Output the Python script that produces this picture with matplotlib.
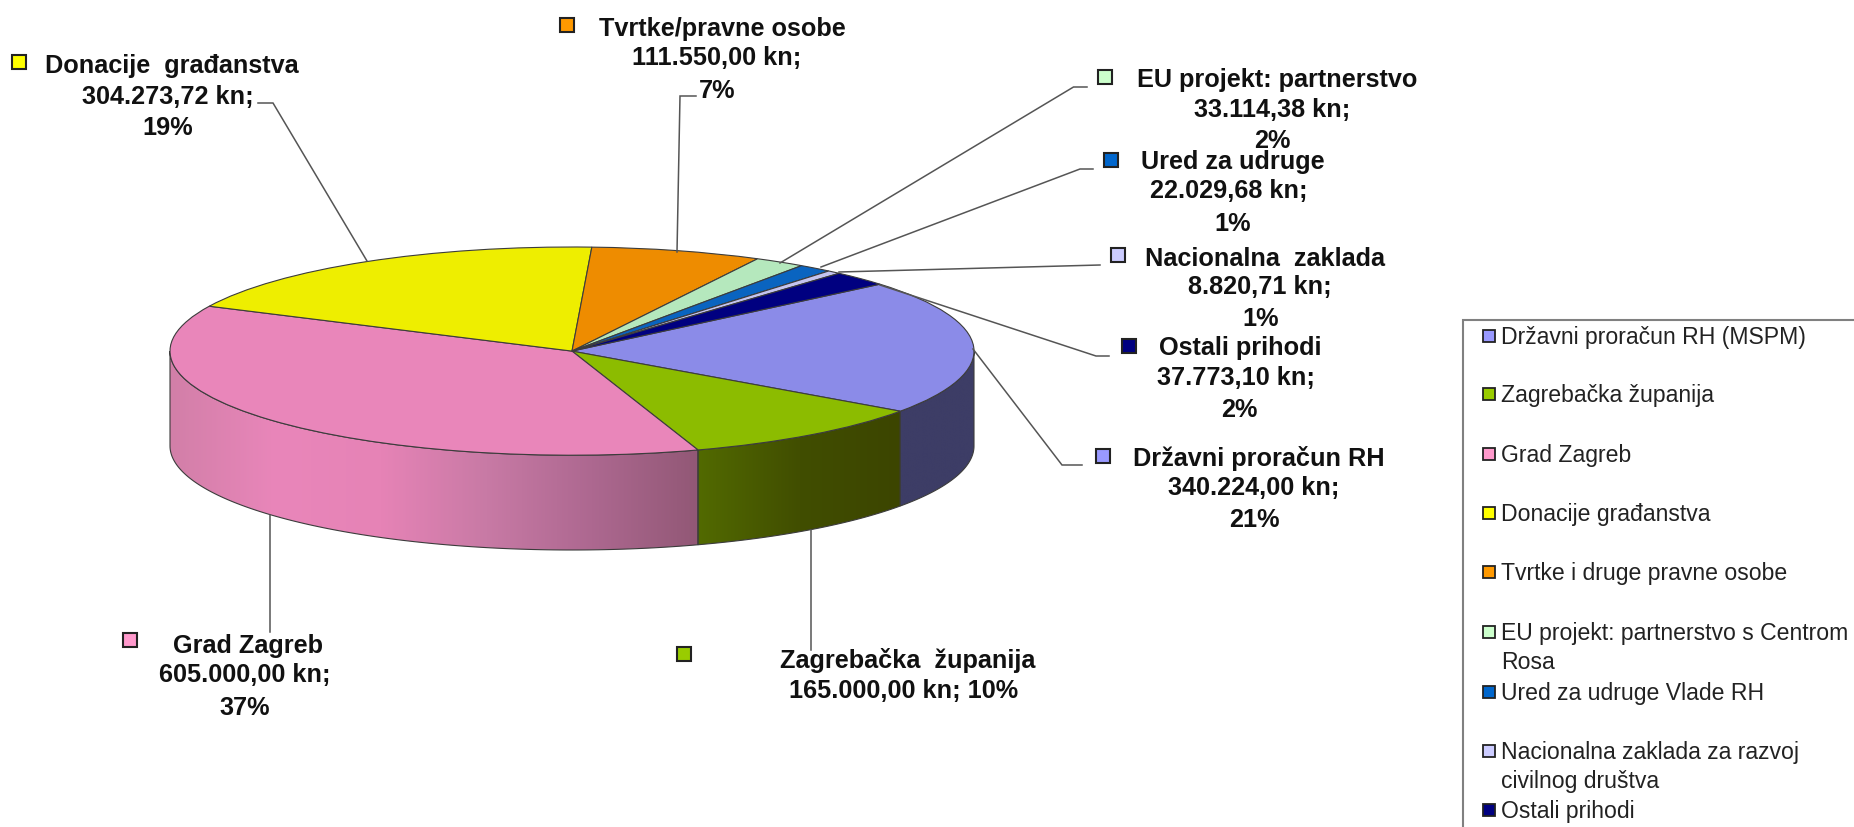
import numpy as np
import matplotlib
matplotlib.use('Agg')
import matplotlib.pyplot as plt
from matplotlib.colors import LinearSegmentedColormap
from matplotlib.patches import Wedge, Polygon, Rectangle

plt.rcParams['font.family'] = ['Liberation Sans', 'DejaVu Sans']

W, H = 1854, 827

# data, same order as the legend
names = ['Državni proračun RH', 'Zagrebačka  županija', 'Grad Zagreb', 'Donacije  građanstva',
         'Tvrtke/pravne osobe', 'EU projekt: partnerstvo', 'Ured za udruge',
         'Nacionalna  zaklada', 'Ostali prihodi']
values = [340224.00, 165000.00, 605000.00, 304273.72, 111550.00, 33114.38, 22029.68, 8820.71, 37773.10]
percents = [21, 10, 37, 19, 7, 2, 1, 1, 2]
legend_names = ['Državni proračun RH (MSPM)', 'Zagrebačka županija', 'Grad Zagreb', 'Donacije građanstva',
                'Tvrtke i druge pravne osobe', 'EU projekt: partnerstvo s Centrom\nRosa',
                'Ured za udruge Vlade RH', 'Nacionalna zaklada za razvoj\ncivilnog društva', 'Ostali prihodi']
top_colors = ['#8b8be8', '#8cbc00', '#e986ba', '#eeee00', '#ee8c00', '#b5e8bd', '#0a64c0', '#c4c4f0', '#000080']
swatch_colors = ['#9999ff', '#99cc00', '#ff99cc', '#ffff00', '#ff9900', '#ccffcc', '#0066cc', '#ccccff', '#000080']
wall_stops = {0: ['#3d3d66', '#3d3d66'],
              1: ['#526a00', '#414e00', '#3c4500'],
              2: ['#d27fa8', '#e986ba', '#e683b6', '#c87aa5', '#ad6890', '#925876']}

# pixel layout
pie_left, pie_right, pie_top, pie_bottom = 170, 974, 247, 550
depth = 94.7 / 104.0
start_angle = 40

# label layout: swatch xy, then line centres
swatch_xy = [(1103, 456), (684, 654), (130, 640), (19, 62), (567, 25), (1105, 77), (1111, 160), (1118, 255), (1129, 346)]
line_xy = [[(1259, 457), (1254, 486), (1254, 518)],
           [(908, 659), (904, 689)],
           [(248, 644), (245, 673), (245, 706)],
           [(172, 64), (168, 95), (168, 126)],
           [(722, 27), (717, 56), (717, 89)],
           [(1277, 78), (1272, 108), (1272, 139)],
           [(1233, 160), (1229, 189), (1233, 222)],
           [(1265, 257), (1260, 285), (1261, 317)],
           [(1240, 346), (1236, 376), (1239, 408)]]
leaders = [[(1082, 465), (1062, 465), (973, 349)],
           [(811, 650), (811, 530)],
           [(270.5, 632), (270.5, 515)],
           [(258, 103), (273, 103), (367, 261)],
           [(696, 96), (680, 96), (677, 252)],
           [(1087, 87), (1073.5, 87), (780, 263)],
           [(1093, 169), (1080, 169), (821, 267)],
           [(1100, 265), (839, 272)],
           [(1109, 356), (1096, 356), (880, 285)]]
legend_y = [336, 394, 454, 513, 572, 632, 692, 751, 810]


def kn(v):
    s = f'{v:,.2f}'.replace(',', ' ').replace('.', ',').replace(' ', '.')
    return s + ' kn;'


fig = plt.figure(figsize=(W / 100, H / 100), dpi=100, facecolor='white')

# overlay axes in image pixels for labels and leaders
ov = fig.add_axes([0, 0, 1, 1], zorder=2)
ov.set_xlim(0, W)
ov.set_ylim(H, 0)
ov.axis('off')
ov.patch.set_alpha(0)

# pie axes: unit circle squashed by the axes scale
ax = fig.add_axes([pie_left / W, 1 - pie_bottom / H, (pie_right - pie_left) / W, (pie_bottom - pie_top) / H], zorder=1)
ax.set_xlim(-1, 1)
ax.set_ylim(-1 - depth, 1)
ax.axis('off')

fracs = np.array(values) / sum(values)
ends = start_angle - 360 * np.cumsum(fracs)
starts = np.r_[start_angle, ends[:-1]]

edge = '#3c3c3c'
for i, (a0, a1) in enumerate(zip(starts, ends)):
    # side wall only for the front half
    lo, hi = max(a1, -180), min(a0, 0)
    if hi > lo and i in wall_stops:
        t = np.radians(np.linspace(lo, hi, 120))
        x, y = np.cos(t), np.sin(t)
        pts = np.r_[np.c_[x, y], np.c_[x[::-1], y[::-1] - depth]]
        poly = Polygon(pts, closed=True, facecolor='none', edgecolor=edge, lw=0.8, zorder=2, clip_on=False)
        ax.add_patch(poly)
        cmap = LinearSegmentedColormap.from_list(f'w{i}', wall_stops[i])
        im = ax.imshow(np.linspace(0, 1, 256)[None, :], extent=(x.min(), x.max(), -1 - depth, 0),
                       aspect='auto', cmap=cmap, zorder=1)
        im.set_clip_path(poly)
    ax.add_patch(Wedge((0, 0), 1, a1, a0, facecolor=top_colors[i], edgecolor=edge, lw=0.8, zorder=3, clip_on=False))
ax.set_xlim(-1, 1)
ax.set_ylim(-1 - depth, 1)

# labels, placed on the baseline so descenders do not shift a line
for i, name in enumerate(names):
    pct = f'{percents[i]}%'
    if len(line_xy[i]) == 3:
        lines = [name, kn(values[i]), pct]
    else:
        lines = [name, kn(values[i]) + ' ' + pct]
    for (x, y), s in zip(line_xy[i], lines):
        ov.text(x, y + 9, s, ha='center', va='baseline', fontsize=18.2, fontweight='bold', color='#111111')
    sx, sy = swatch_xy[i]
    ov.add_patch(Rectangle((sx - 7, sy - 7), 14, 14, facecolor=swatch_colors[i], edgecolor='#222222', lw=1.5))

for pts in leaders:
    xs, ys = zip(*pts)
    ov.plot(xs, ys, color='#555555', lw=1.1, solid_joinstyle='miter')

# legend box runs off the right and bottom of the picture
ov.add_patch(Rectangle((1463, 320), 500, 600, facecolor='white', edgecolor='#808080', lw=1.5))
for i, name in enumerate(legend_names):
    y = legend_y[i]
    ov.add_patch(Rectangle((1483, y - 6), 12, 12, facecolor=swatch_colors[i], edgecolor='#222222', lw=1.3, zorder=3))
    ov.text(1501, y - 10, name, ha='left', va='top', fontsize=16.6, color='#222222', linespacing=1.33, zorder=3)

fig.savefig('out.png', dpi=100)
